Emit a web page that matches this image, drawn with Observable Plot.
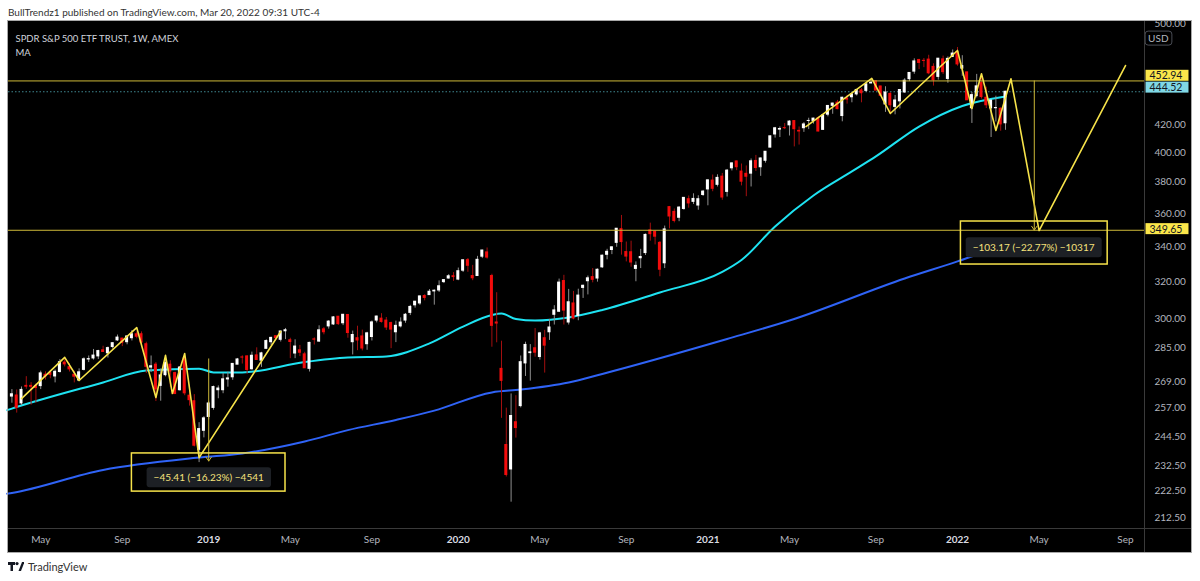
<!DOCTYPE html>
<html>
<head>
<meta charset="utf-8">
<script src="https://cdn.jsdelivr.net/npm/d3@7"></script>
<script src="https://cdn.jsdelivr.net/npm/@observablehq/plot@0.6"></script>
<style>
  html, body { margin: 0; padding: 0; background: #fff; }
  body { width: 1200px; height: 581px; position: relative; overflow: hidden; font-family: Lato, "Noto Sans", sans-serif; }
  #hdr { position: absolute; left: 8px; top: 6px; font-size: 10px; color: #333; white-space: nowrap; }
  #panel { position: absolute; left: 8px; top: 21px; width: 1183px; height: 531px; background: #000; outline: 1px solid #a8a8a8; }
  #ftr { position: absolute; left: 8px; top: 560px; font-size: 11px; color: #333; display: flex; align-items: center; gap: 4px; }
</style>
</head>
<body>
<div id="hdr">BullTrendz1 published on TradingView.com, Mar 20, 2022 09:31 UTC-4</div>
<div id="panel"></div>
<div id="ftr">
  <svg width="16" height="10" viewBox="0 0 16 10"><path d="M0 0H7V3H5V9H2.5V3H0Z" fill="#131722"/><circle cx="9" cy="1.6" r="1.6" fill="#131722"/><path d="M10.5 9L14 0H16.5L13 9Z" fill="#131722"/></svg>
  <span>TradingView</span>
</div>
<script>
// ---- weekly candles SPY [open, high, low, close], weeks starting Monday 2018-03-26 ----
const ohlc2018 = [
  [262.1,265.3,259.1,263.15],[262.6,265.1,254.7,257.0],[259.0,266.5,258.0,265.15],[267.0,271.3,265.4,266.61],
  [267.0,268.5,258.2,266.56],[267.0,267.9,259.1,266.02],[266.9,273.9,265.3,272.85],[272.2,273.6,269.7,271.33],
  [273.0,274.2,270.3,272.15],[271.4,274.5,268.4,273.6],[273.5,279.5,273.0,278.19],[278.0,279.5,275.9,277.13],
  [275.8,277.5,273.5,274.74],[272.2,273.9,268.4,271.28],[269.5,275.0,269.0,273.35],[274.5,280.3,274.0,279.59],
  [279.5,281.2,278.0,279.68],[280.0,284.4,279.2,281.4],[281.0,284.0,279.5,283.6],[284.0,286.0,283.0,283.16],
  [282.5,285.6,280.2,285.07],[285.6,287.7,284.6,287.51],[288.9,291.6,288.4,290.31],[289.8,290.0,285.8,287.6],
  [288.0,291.3,286.7,290.88],[290.0,293.9,288.6,291.99],[292.0,293.2,289.7,290.72],[292.0,293.2,286.4,287.82],
  [287.0,288.0,272.8,275.95],[275.6,281.2,273.2,276.25],[277.0,278.0,259.85,265.33],[267.0,274.9,260.0,271.89],
  [272.0,281.2,271.2,277.76],[277.0,278.9,266.4,273.73],[273.0,273.4,263.1,263.25],[265.0,276.1,264.6,275.65],
  [280.0,280.4,262.5,263.57],[262.5,267.4,257.8,260.47],[260.0,263.0,240.2,240.7],[239.0,250.5,233.76,247.75],
  [247.0,253.1,244.0,252.39]
];
const ohlc2019 = [
  [253.0,260.0,251.7,258.98],[257.0,266.9,256.0,266.46],[265.0,267.0,261.1,265.78],[265.0,272.8,263.4,270.06],
  [270.0,273.4,266.4,270.47],[271.0,277.4,269.6,277.37],[277.0,280.0,277.0,279.52],[280.5,281.3,277.3,280.42],
  [281.0,281.3,272.4,274.46],[274.8,283.1,274.4,281.31],[281.5,285.2,279.0,279.25],[278.9,283.0,275.7,282.48],
  [284.7,289.2,284.7,288.57],[288.0,290.5,286.4,290.16],[291.0,291.4,288.9,290.02],[289.2,293.5,288.1,293.41],
  [293.5,294.95,289.3,294.03],[289.0,290.0,279.9,288.1],[282.4,289.2,279.9,285.84],[284.0,286.4,280.9,282.78],
  [282.0,283.0,275.4,275.27],[275.0,288.0,273.5,287.65],[289.4,290.2,286.6,289.26],[288.3,296.3,287.9,294.0],
  [294.5,295.4,291.7,293.0],[296.0,299.0,294.6,298.46],[297.0,301.1,296.5,300.65],[301.0,301.1,296.5,297.17],
  [297.6,302.2,296.4,302.01],[301.9,302.2,290.0,292.62],[288.0,293.6,281.7,291.62],[290.0,296.1,283.8,288.85],
  [290.9,294.1,283.7,284.85],[287.0,293.0,284.0,292.45],[290.6,298.8,288.6,298.05],[299.0,301.3,297.8,301.09],
  [300.0,302.6,297.7,298.28],[299.0,300.6,293.9,295.4],[297.7,298.2,284.8,294.35],[293.0,298.7,287.8,296.28],
  [296.0,300.4,295.2,297.97],[299.0,302.7,297.6,302.01],[303.0,307.0,301.6,306.14],[307.0,309.0,305.5,308.94],
  [308.0,312.0,307.0,311.79],[312.0,312.7,309.4,310.96],[312.5,315.5,312.3,314.31],[314.5,315.3,307.1,314.87],
  [315.0,320.3,313.9,317.32],[319.6,320.9,318.8,320.73],[321.6,323.8,321.3,322.86],[322.9,324.9,320.0,322.41]
];
const ohlc2020 = [
  [321.0,327.5,320.4,325.71],[326.0,332.0,325.0,331.95],[332.0,332.95,325.1,328.77],[323.0,329.0,320.4,321.73],
  [323.0,334.2,322.8,332.2],[334.0,337.7,332.9,337.6],[336.5,339.08,332.6,333.48],[323.0,324.0,285.5,296.26],
  [298.0,313.8,287.7,297.46],[275.0,288.5,252.4,269.32],[241.0,256.9,228.0,228.8],[231.0,263.3,218.26,253.42],
  [250.7,262.5,243.9,248.19],[257.8,281.2,257.0,278.2],[277.6,288.0,271.4,286.64],[282.6,286.8,269.2,282.97],
  [285.0,294.9,280.6,282.79],[280.7,292.95,279.2,292.44],[290.0,294.0,272.99,286.28],[293.0,299.6,288.9,295.44],
  [302.0,306.8,296.7,304.32],[303.6,321.3,303.2,319.34],[320.2,323.4,296.7,304.21],[298.0,315.6,296.7,308.64],
  [308.0,314.5,299.4,300.05],[301.4,315.7,298.9,312.23],[316.4,317.9,310.7,317.59],[320.1,323.0,312.6,321.72],
  [322.4,327.2,319.2,320.88],[321.6,327.0,319.6,326.52],[327.9,335.0,327.3,334.57],[335.1,338.3,332.2,336.84],
  [337.9,339.7,335.2,339.48],[342.1,350.7,339.5,350.58],[350.35,358.75,334.9,342.57],[336.7,342.6,331.0,334.06],
  [336.6,343.1,327.97,330.65],[327.0,331.0,319.8,328.73],[333.1,338.3,327.2,333.84],[336.1,347.4,334.7,346.85],
  [349.6,354.0,343.1,347.29],[348.7,349.3,340.9,345.78],[342.1,342.9,322.6,326.54],[330.2,352.2,327.2,350.16],
  [363.97,364.38,350.5,358.1],[360.98,362.8,354.15,355.33],[357.3,364.18,354.9,363.67],[362.8,369.85,362.0,369.85],
  [369.0,371.05,363.3,366.3],[367.3,372.46,365.6,369.18],[364.97,371.2,362.0,369.0],[371.7,374.66,370.8,373.88]
];
const ohlc2021 = [
  [375.3,381.5,364.8,381.26],[381.1,384.8,373.8,375.7],[378.3,384.95,376.9,382.88],[383.7,385.85,368.3,370.07],
  [373.7,388.5,370.4,387.71],[389.3,392.9,387.5,392.64],[393.96,394.2,387.7,390.03],[387.1,392.2,377.6,380.36],
  [385.6,390.9,370.6,383.63],[385.7,395.65,376.9,394.06],[394.3,398.1,387.2,389.48],[390.0,396.4,383.9,395.98],
  [394.4,400.7,392.8,400.61],[403.5,411.7,403.4,411.49],[412.8,417.9,410.2,417.26],[416.3,418.25,410.6,416.74],
  [417.4,420.7,416.3,417.3],[419.4,422.8,411.7,422.12],[422.5,422.7,404.0,416.58],[415.4,418.2,405.3,414.94],
  [417.3,421.3,414.3,420.04],[422.6,424.6,416.3,422.6],[422.6,424.6,420.3,424.31],[424.4,425.5,414.7,414.92],
  [416.1,427.1,415.9,426.61],[427.2,434.1,425.6,433.72],[433.8,435.8,427.5,435.52],[436.2,437.9,430.9,431.34],
  [426.2,440.3,421.97,439.94],[439.3,441.8,435.1,438.51],[440.3,442.9,436.1,442.49],[442.5,446.0,441.3,445.92],
  [445.6,447.1,436.1,443.36],[445.2,451.0,444.0,450.25],[450.97,454.05,450.7,451.54],[452.7,452.7,445.3,445.44],
  [448.6,448.9,441.0,441.4],[434.9,448.4,428.9,443.91],[442.8,444.05,427.2,434.24],[433.0,441.7,427.1,437.86],
  [437.2,446.3,431.5,445.87],[443.97,454.7,443.3,453.12],[454.3,459.6,452.4,459.25],[460.3,470.65,458.2,468.53],
  [469.7,470.2,462.0,467.27],[469.0,470.9,463.5,468.89],[470.0,473.54,457.8,458.97],[464.1,466.6,448.9,453.42],
  [456.1,470.9,453.6,470.74],[470.2,472.9,458.06,459.87],[454.5,472.2,451.1,470.6],[472.1,477.9,472.0,474.96]
];
const ohlc2022 = [
  [476.3,479.98,464.65,466.09],[462.7,473.2,456.6,464.72],[459.7,459.96,437.95,437.98],[432.0,444.0,420.76,441.95],
  [441.2,458.1,439.8,448.7],[451.3,457.7,438.9,440.46],[439.9,448.06,431.8,434.23],[431.9,437.8,410.64,437.75],
  [432.0,441.1,421.8,432.17],[431.6,432.3,415.12,420.07],[420.9,444.86,415.79,444.52]
];

// ---- moving averages ----
const ma50Dates = ["2018-03-19","2018-03-26","2018-08-06","2018-10-08","2018-12-24","2019-01-14","2019-02-25","2019-05-27","2019-07-29","2019-09-23","2019-11-25","2020-01-13","2020-02-24","2020-03-09","2020-03-30","2020-04-27","2020-06-15","2020-08-03","2020-10-26","2021-01-25","2021-02-22","2021-04-12","2021-06-07","2021-08-02","2021-09-06","2021-11-08","2022-01-10","2022-03-14"];
const ma50Values = [256.0,256.7,268.6,274.2,275.1,273.3,273.3,278.3,280.5,281.0,287.4,295.9,301.9,302.7,299.8,299.0,300.6,304.5,313.9,325.3,332.1,352.0,371.4,387.2,397.4,418.5,433.7,440.9];
const ma200Dates = ["2018-03-19","2018-03-26","2018-08-06","2018-12-24","2019-02-25","2019-05-27","2019-07-29","2019-10-07","2019-12-02","2020-02-24","2020-04-06","2020-06-15","2020-08-03","2021-02-01","2021-05-03","2021-10-18","2022-01-03","2022-03-14"];
const ma200Values = [221.5,221.8,230.8,235.8,237.5,242.5,247.3,251.7,255.8,264.0,265.3,268.6,272.6,289.6,299.0,321.6,331.3,341.1];

// ---- drawings ----
const zigA_dates = ["2018-04-09","2018-06-11","2018-07-02","2018-09-24","2018-10-22","2018-11-05","2018-11-15","2018-12-03","2018-12-24","2019-04-22"];
const zigA_prices = [261.2,280.5,269.5,295.4,261.7,281.5,263.5,282.4,235.8,293.4];
const zigB_dates = ["2021-05-27","2021-08-31","2021-09-27","2022-01-03","2022-01-24","2022-02-07","2022-02-28","2022-03-22","2022-05-02","2022-09-05"];
const zigB_prices = [418.5,454.9,428.1,477.5,431.8,458.6,415.7,454.6,349.5,465.2];
const hLevels = [452.94, 349.65];
const lastClose = 444.52;
const measureDates = ["2019-01-07","2022-04-25"];
const measureFrom = [279.8, 452.94];
const measureTo = [234.4, 349.77];
const measureLabels = ["\u221245.41 (\u221216.23%) \u22124541", "\u2212103.17 (\u221222.77%) \u221210317"];
const measureLabelDates = ["2019-01-07","2022-04-24"];
const measureLabelPrices = [227.6, 339.1];
const boxX1 = ["2018-09-17","2022-01-08"];
const boxX2 = ["2019-04-29","2022-08-10"];
const boxTop = [237.5, 355.0];
const boxBottom = [222.3, 329.5];

// ---- axes ----
const yTicks = [212.5,222.5,232.5,244.5,257,269,285,300,320,340,360,380,400,420,500];
const xTickDates = ["2018-05-07","2018-09-03","2019-01-07","2019-05-06","2019-09-02","2020-01-06","2020-05-04","2020-09-07","2021-01-04","2021-05-03","2021-09-06","2022-01-03","2022-05-02","2022-09-05"];
const xTickLabels = ["May","Sep","2019","May","Sep","2020","May","Sep","2021","May","Sep","2022","May","Sep"];

// ---- build tables ----
const D = s => new Date(s + "T00:00:00Z");
const ohlc = [].concat(ohlc2018, ohlc2019, ohlc2020, ohlc2021, ohlc2022);
const weeks = d3.utcMonday.range(D("2018-03-26"), D("2022-03-15"));
const bars = ohlc.map(([o, h, l, c], i) => ({date: weeks[i], o, h, l, c}));
const up = bars.filter(b => b.c >= b.o);
const down = bars.filter(b => b.c < b.o);
const half = 2.2 * 864e5; // half body width (time units)
const ma50 = ma50Dates.map((d, i) => ({date: D(d), v: ma50Values[i]}));
const ma200 = ma200Dates.map((d, i) => ({date: D(d), v: ma200Values[i]}));
const zigA = zigA_dates.map((d, i) => ({date: D(d), v: zigA_prices[i]}));
const zigB = zigB_dates.map((d, i) => ({date: D(d), v: zigB_prices[i]}));
const measures = measureDates.map((d, i) => ({date: D(d), a: measureFrom[i], b: measureTo[i]}));
const mLabels = measureLabels.map((t, i) => ({t, date: D(measureLabelDates[i]), v: measureLabelPrices[i]}));
const boxes = boxX1.map((d, i) => ({x1: D(d), x2: D(boxX2[i]), y1: boxTop[i], y2: boxBottom[i]}));
const tickLabelMap = new Map(xTickDates.map((d, i) => [+D(d), xTickLabels[i]]));
const monthTicks = xTickDates.filter((d, i) => !/^\d{4}$/.test(xTickLabels[i])).map(D);
const yearTicks = xTickDates.filter((d, i) => /^\d{4}$/.test(xTickLabels[i])).map(D);

const WEEK = 7 * 864e5;
const t0 = +D("2022-01-03");
const W = 1183, H = 531, MR = 47, MB = 24;

const YEL = "#f7e34a", CYAN = "#1ee3f2", BLUE = "#2f63f6";

const chart = Plot.plot({
  width: W, height: H,
  marginLeft: 0, marginRight: MR, marginTop: 0, marginBottom: MB,
  style: {background: "#000", color: "#b2b5be", fontFamily: "Lato, 'Noto Sans', sans-serif", fontSize: "10px", overflow: "visible"},
  x: {type: "utc", domain: [new Date(t0 - 197.71 * WEEK), new Date(t0 + 38.96 * WEEK)]},
  y: {type: "log", domain: [208.53, 502.08]},
  marks: [
    Plot.axisY(yTicks, {anchor: "right", tickSize: 0, tickPadding: 10, tickFormat: d => d.toFixed(2), fill: "#b2b5be", fontSize: 10}),
    Plot.axisX(monthTicks, {anchor: "bottom", tickSize: 0, tickPadding: 7, tickFormat: d => tickLabelMap.get(+d), fill: "#b2b5be", fontSize: 10}),
    Plot.axisX(yearTicks, {anchor: "bottom", tickSize: 0, tickPadding: 7, tickFormat: d => tickLabelMap.get(+d), fill: "#d9dbe0", fontSize: 10, fontWeight: "bold"}),
    Plot.ruleY([lastClose], {stroke: "#3f8791", strokeDasharray: "1.5 2", strokeWidth: 1}),
    Plot.line(ma200, {x: "date", y: "v", stroke: BLUE, strokeWidth: 2, curve: "monotone-x"}),
    Plot.line(ma50, {x: "date", y: "v", stroke: CYAN, strokeWidth: 2, curve: "monotone-x"}),
    Plot.ruleX(up, {x: "date", y1: "l", y2: "h", stroke: "#8f8f8f", strokeWidth: 1}),
    Plot.ruleX(down, {x: "date", y1: "l", y2: "h", stroke: "#a30f0f", strokeWidth: 1}),
    Plot.rect(up, {x1: d => new Date(+d.date - half), x2: d => new Date(+d.date + half), y1: "o", y2: "c", fill: "#ffffff", insetTop: -0.5, insetBottom: -0.5}),
    Plot.rect(down, {x1: d => new Date(+d.date - half), x2: d => new Date(+d.date + half), y1: "o", y2: "c", fill: "#f20c0c", insetTop: -0.5, insetBottom: -0.5}),
    Plot.ruleY(hLevels, {stroke: "#cdb838", strokeWidth: 1}),
    Plot.line(zigA, {x: "date", y: "v", stroke: YEL, strokeWidth: 1.6}),
    Plot.line(zigB, {x: "date", y: "v", stroke: YEL, strokeWidth: 1.6}),
    Plot.arrow(measures, {x1: "date", y1: "a", x2: "date", y2: "b", stroke: "#cdb838", strokeWidth: 1, headLength: 7, headAngle: 70}),
    Plot.rect(boxes, {x1: "x1", x2: "x2", y1: "y1", y2: "y2", fill: "none", stroke: YEL, strokeWidth: 1.5}),
    Plot.text(mLabels, {x: "date", y: "v", text: "t", fill: "#f6e27c", fontSize: 10, ariaDescription: "measure-label"}),
    Plot.text(["SPDR S&P 500 ETF TRUST, 1W, AMEX"], {frameAnchor: "top-left", dx: 7, dy: 14, textAnchor: "start", fill: "#d1d4dc", fontSize: 9.5}),
    Plot.text(["MA"], {frameAnchor: "top-left", dx: 7, dy: 28, textAnchor: "start", fill: "#d1d4dc", fontSize: 9.5}),
    Plot.text(["USD"], {frameAnchor: "top-right", dx: 24, dy: 13.5, fill: "#b2b5be", fontSize: 10, ariaDescription: "usd"}),
    Plot.text([hLevels[0]], {y: d => d, text: d => d.toFixed(2), frameAnchor: "right", dx: 5, dy: -5, textAnchor: "start", fill: "#131722", fontSize: 10.5, ariaDescription: "plabel-yellow"}),
    Plot.text([lastClose], {y: d => d, text: d => d.toFixed(2), frameAnchor: "right", dx: 5, dy: -4, textAnchor: "start", fill: "#131722", fontSize: 10.5, ariaDescription: "plabel-cyan"}),
    Plot.text([hLevels[1]], {y: d => d, text: d => d.toFixed(2), frameAnchor: "right", dx: 5, dy: -1, textAnchor: "start", fill: "#131722", fontSize: 10.5, ariaDescription: "plabel-yellow"})
  ]
});

document.getElementById("panel").append(chart);

// backgrounds behind label texts (same transform as the text)
const sel = d3.select(chart);
function addBg(desc, fn) {
  sel.selectAll('g[aria-description="' + desc + '"] text').each(function() {
    const b = this.getBBox();
    const r = document.createElementNS("http://www.w3.org/2000/svg", "rect");
    const tf = this.getAttribute("transform");
    if (tf) r.setAttribute("transform", tf);
    fn(r, b);
    this.parentNode.insertBefore(r, this);
  });
}
addBg("measure-label", (r, b) => {
  r.setAttribute("x", b.x - 7); r.setAttribute("y", b.y - 4);
  r.setAttribute("width", b.width + 14); r.setAttribute("height", b.height + 8);
  r.setAttribute("rx", 3); r.setAttribute("fill", "#1d2025");
});
addBg("plabel-yellow", (r, b) => {
  r.setAttribute("x", b.x - 4); r.setAttribute("y", b.y + 0.5);
  r.setAttribute("width", 43); r.setAttribute("height", b.height - 1);
  r.setAttribute("fill", "#fbe64a");
});
addBg("plabel-cyan", (r, b) => {
  r.setAttribute("x", b.x - 4); r.setAttribute("y", b.y + 0.5);
  r.setAttribute("width", 43); r.setAttribute("height", b.height - 1);
  r.setAttribute("fill", "#80d8e6");
});
addBg("usd", (r, b) => {
  r.setAttribute("x", b.x - 3); r.setAttribute("y", b.y - 1);
  r.setAttribute("width", b.width + 6); r.setAttribute("height", b.height + 2);
  r.setAttribute("rx", 3); r.setAttribute("fill", "#000"); r.setAttribute("stroke", "#4a4d55");
});
// pane separators
sel.append("line").attr("x1", W - MR + 0.5).attr("x2", W - MR + 0.5).attr("y1", 0).attr("y2", H).attr("stroke", "#3a3a3a");
sel.append("line").attr("x1", 0).attr("x2", W).attr("y1", H - MB + 0.5).attr("y2", H - MB + 0.5).attr("stroke", "#3a3a3a");
</script>
</body>
</html>
